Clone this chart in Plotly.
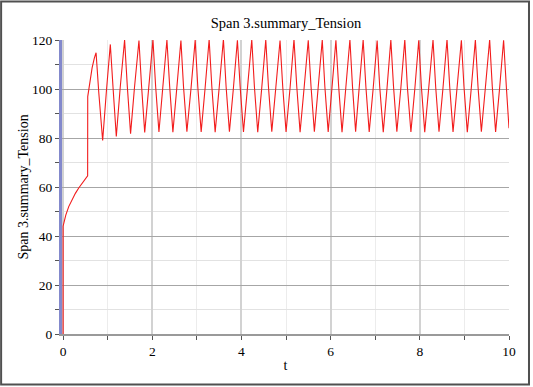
import plotly.graph_objects as go

# Time samples (t) and the Span 3 tension values
t = [0.0, 0.0, 0.02, 0.06, 0.126, 0.2, 0.275, 0.35, 0.425, 0.5, 0.55, 0.552,
     0.60, 0.65, 0.70, 0.739,
     0.80, 0.887, 0.97, 1.059,
     1.12, 1.193, 1.28, 1.379,
     1.44, 1.513, 1.60, 1.701,
     1.76, 1.830, 1.92, 2.015,
     2.075, 2.149, 2.235, 2.328,
     2.39, 2.462, 2.55, 2.642,
     2.70, 2.776, 2.87, 2.962,
     3.02, 3.096, 3.185, 3.275,
     3.335, 3.41, 3.50, 3.595,
     3.655, 3.73, 3.82, 3.909,
     3.97, 4.045, 4.135, 4.231,
     4.29, 4.365, 4.455, 4.545,
     4.605, 4.68, 4.77, 4.865,
     4.925, 5.0, 5.09, 5.178,
     5.24, 5.315, 5.405, 5.498,
     5.56, 5.635, 5.72, 5.812,
     5.87, 5.945, 6.03, 6.118,
     6.18, 6.255, 6.34, 6.432,
     6.49, 6.56, 6.64, 6.729,
     6.79, 6.865, 6.955, 7.043,
     7.10, 7.18, 7.265, 7.350,
     7.41, 7.485, 7.575, 7.663,
     7.72, 7.80, 7.89, 7.976,
     8.035, 8.11, 8.20, 8.296,
     8.355, 8.43, 8.52, 8.610,
     8.67, 8.745, 8.835, 8.932,
     8.99, 9.065, 9.155, 9.246,
     9.305, 9.38, 9.47, 9.566,
     9.625, 9.70, 9.79, 9.879,
     9.94, 10.0]

tension = [0.0, 44.0, 45.6, 48.5, 52.0, 55.0, 57.4, 59.6, 61.5, 63.4, 64.6, 96.9,
           103.5, 108.6, 112.6, 114.8,
           98.5, 79.0, 99.0, 118.2,
           100.5, 80.6, 100.5, 120.0,
           101.0, 81.8, 100.5, 119.8,
           101.0, 82.3, 100.5, 120.1,
           101.0, 82.5, 100.5, 120.0,
           101.0, 82.4, 100.5, 119.8,
           101.0, 82.6, 100.5, 120.0,
           101.0, 82.5, 100.5, 120.2,
           101.0, 82.4, 100.5, 120.3,
           101.0, 82.6, 100.5, 119.9,
           101.0, 82.5, 100.5, 120.1,
           101.0, 82.4, 100.5, 120.0,
           101.0, 82.6, 100.5, 119.8,
           101.0, 82.5, 100.5, 120.2,
           101.0, 82.4, 100.5, 119.9,
           101.0, 82.6, 100.5, 120.0,
           101.0, 82.5, 100.5, 119.9,
           101.0, 82.4, 100.5, 120.1,
           101.0, 82.6, 100.5, 120.0,
           101.0, 82.5, 100.5, 119.8,
           101.0, 82.4, 100.5, 120.0,
           101.0, 82.6, 100.5, 120.1,
           101.0, 82.5, 100.5, 119.9,
           101.0, 82.4, 100.5, 120.0,
           101.0, 82.6, 100.5, 120.2,
           101.0, 82.5, 100.5, 119.9,
           101.0, 82.4, 100.5, 120.0,
           101.0, 82.6, 100.5, 120.1,
           101.0, 82.5, 100.5, 119.9,
           101.0, 84.0]

x_range = [-0.025, 10]
y_range = [0, 120]
x_tickvals = [0, 2, 4, 6, 8, 10]
y_tickvals = [0, 20, 40, 60, 80, 100, 120]

W, H = 533, 387
L, R, T, B = 62.4, 23.5, 40, 53
PW, PH = W - L - R, H - T - B
FONT = "Liberation Serif"

fig = go.Figure()
fig.add_trace(go.Scatter(x=t, y=tension, mode="lines",
                         line=dict(color="#f21c1c", width=1.1),
                         showlegend=False, hoverinfo="skip"))

fig.update_layout(
    width=W, height=H,
    margin=dict(l=L, r=R, t=T, b=B, pad=0),
    paper_bgcolor="white", plot_bgcolor="white",
    font=dict(family=FONT, size=13.5, color="black"),
    title=dict(text="Span 3.summary_Tension", x=(L + PW / 2) / W, xanchor="center",
               y=1 - 22.7 / H, yanchor="middle",
               font=dict(family=FONT, size=14.5, color="black")),
    xaxis=dict(range=x_range, tickvals=x_tickvals, autorange=False,
               showline=True, linecolor="#9a9a9a", linewidth=2,
               ticks="outside", ticklen=4, tickcolor="#555555", tickwidth=1,
               showgrid=True, gridcolor="#d2d2d2", gridwidth=2,
               zeroline=False, automargin=False,
               tickfont=dict(family=FONT, size=13.5, color="black"),
               title=dict(text="t", standoff=2, font=dict(family=FONT, size=14)),
               minor=dict(dtick=1, tick0=0, ticks="outside", ticklen=4,
                          tickcolor="#555555", showgrid=True,
                          gridcolor="#ececec", gridwidth=1)),
    yaxis=dict(range=y_range, tickvals=y_tickvals, autorange=False,
               showline=True, linecolor="#8389cc", linewidth=3,
               layer="below traces",
               ticks="outside", ticklen=4, tickcolor="#555555", tickwidth=1,
               showgrid=True, gridcolor="#a6a6a6", gridwidth=1,
               zeroline=False, automargin=False,
               tickfont=dict(family=FONT, size=13.5, color="black"),
               title=dict(text="Span 3.summary_Tension", standoff=1,
                          font=dict(family=FONT, size=14)),
               minor=dict(dtick=10, tick0=0, ticks="outside", ticklen=4,
                          tickcolor="#555555", showgrid=True,
                          gridcolor="#e2e2e2", gridwidth=1)),
    xaxis2=dict(overlaying="x", side="top", range=x_range, showline=True,
                linecolor="#c8c8c8", linewidth=2, showticklabels=False,
                ticks="", showgrid=False, zeroline=False),
    yaxis2=dict(overlaying="y", side="right", range=y_range, showline=True,
                linecolor="#c8c8c8", linewidth=2, showticklabels=False,
                ticks="", showgrid=False, zeroline=False),
)

# outer frame of the picture
fig.add_shape(type="rect", xref="paper", yref="paper",
              x0=(1.5 - L) / PW, x1=(529.5 - L) / PW,
              y0=(H - 384.5 - B) / PH, y1=(H - 1.5 - B) / PH,
              line=dict(color="#505050", width=2), fillcolor="rgba(0,0,0,0)",
              layer="above")

fig.write_html("out.html")
